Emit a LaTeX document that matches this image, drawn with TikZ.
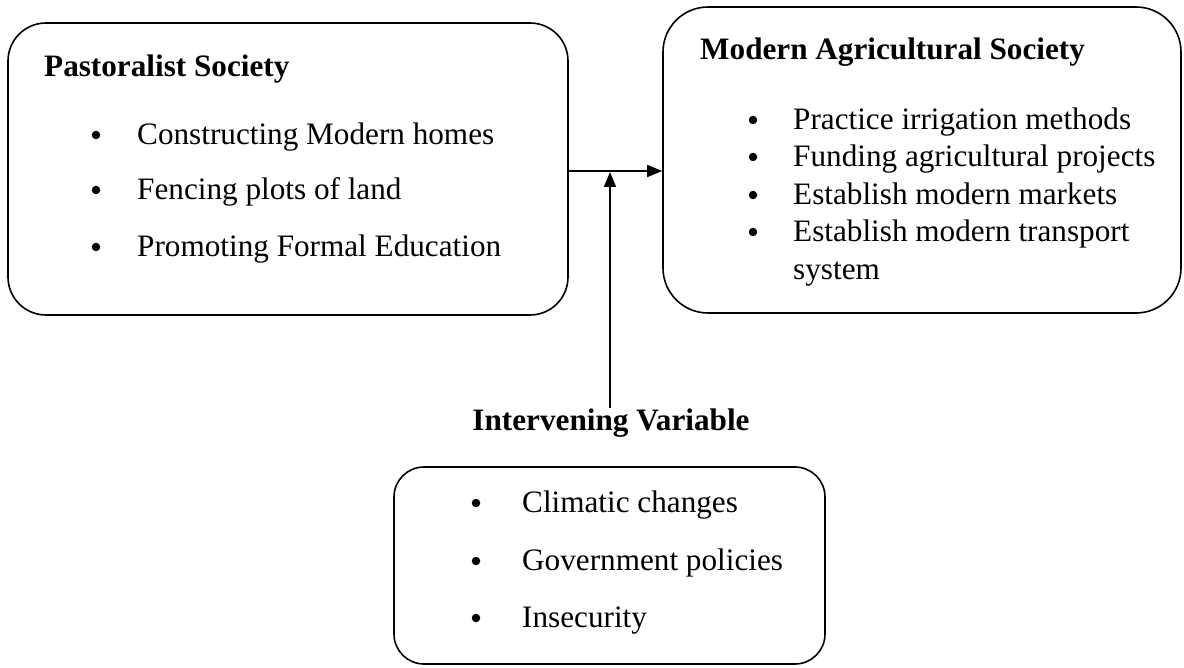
\documentclass[tikz,border=0pt]{standalone}
\usepackage{fontspec}
\setmainfont{Liberation Serif}
\usetikzlibrary{arrows.meta,calc}
\begin{document}
\begin{tikzpicture}[x=1pt,y=-1pt,
  box/.style={draw,line width=1.6pt,rounded corners=#1,rectangle,inner sep=0pt},
  txt/.style={anchor=base west,inner sep=0pt,font=\fontsize{31.2}{37}\selectfont},
  ttl/.style={txt,font=\fontsize{31.2}{37}\selectfont\bfseries},
  bul/.style={circle,fill=black,inner sep=0pt,minimum size=8.5pt},
  arr/.style={line width=1.6pt,-{Triangle[length=15pt,width=12pt]}}]
\useasboundingbox (0,0) rectangle (1184,668);
% boxes
\node[box=38pt,minimum width=560pt,minimum height=292pt] (b1) at (288,169) {};
\node[box=45pt,minimum width=518pt,minimum height=306pt] (b2) at (922,160) {};
\node[box=30pt,minimum width=431pt,minimum height=197pt] (b3) at (609.5,565.5) {};
% left box
\node[ttl] (t1) at (44,77) {Pastoralist Society};
\node[bul] (p1) at (96,135) {}; \node[txt] (l1) at (137,145) {Constructing Modern homes};
\node[bul] (p2) at (96,190) {}; \node[txt] (l2) at (137,200) {Fencing plots of land};
\node[bul] (p3) at (96,247) {}; \node[txt] (l3) at (137,257) {Promoting Formal Education};
% right box
\node[ttl] (t2) at (700,60) {Modern Agricultural Society};
\node[bul] (q1) at (753,120) {}; \node[txt] (r1) at (793,130) {Practice irrigation methods};
\node[bul] (q2) at (753,157) {}; \node[txt] (r2) at (793,167) {Funding agricultural projects};
\node[bul] (q3) at (753,195) {}; \node[txt] (r3) at (793,205) {Establish modern markets};
\node[bul] (q4) at (753,232) {}; \node[txt] (r4) at (793,242) {Establish modern transport};
\node[txt] (r5) at (793,280) {system};
% bottom
\node[ttl,anchor=base] (iv) at (611,430) {Intervening Variable};
\node[bul] (s1) at (476,503) {}; \node[txt] (c1) at (522,512) {Climatic changes};
\node[bul] (s2) at (476,561) {}; \node[txt] (c2) at (522,570) {Government policies};
\node[bul] (s3) at (476,618) {}; \node[txt] (c3) at (522,627) {Insecurity};
% connectors
\coordinate (a) at (b1.east |- 0,171);
\coordinate (j) at (610,172);
\draw[arr] (a) -- (b2.west |- a);
\draw[arr] (iv.north -| j) -- (j);
\end{tikzpicture}
\end{document}
